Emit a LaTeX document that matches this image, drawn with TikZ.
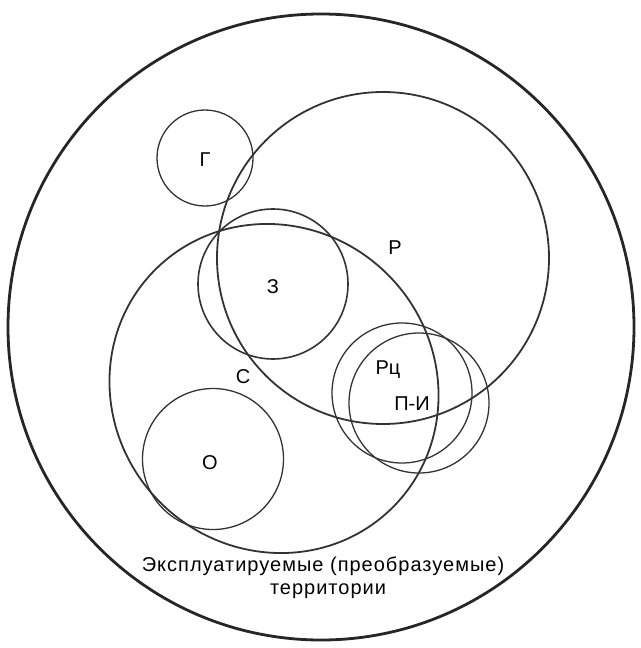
\documentclass[tikz,border=0pt]{standalone}
\usepackage{fontspec}
\setmainfont{Liberation Sans}
\begin{document}
\begin{tikzpicture}[x=1pt,y=-1pt,
  lab/.style={font=\fontsize{20}{22}\selectfont, inner sep=0pt, anchor=center},
  caption/.style={lab, font=\fontsize{20}{22}\selectfont\addfontfeature{LetterSpace=5}},
  outer/.style={line width=2.8pt, draw=black!85},
  big/.style={line width=1.8pt, draw=black!80},
  mid/.style={line width=1.6pt, draw=black!80},
  small/.style={line width=1.3pt, draw=black!80}]
\useasboundingbox[fill=white] (0,0) rectangle (640,648);
% shapes
\draw[outer] (321,327) circle[radius=313pt];
\draw[small] (205,158) circle[radius=48pt];
\draw[big] (383,258) circle[radius=166pt];
\draw[big] (274,388.5) circle[x radius=168pt, y radius=161pt, rotate=-45];
\draw[mid] (273,284) circle[radius=75pt];
\draw[small] (213,459) circle[radius=70.5pt];
\draw[small] (402,393) circle[radius=70pt];
\draw[small] (419,403) circle[radius=70pt];
% labels
\node[lab] (g) at (205,160) {Г};
\node[lab] (z) at (273,287) {З};
\node[lab] (r) at (395,248) {Р};
\node[lab] (s) at (243,377) {С};
\node[lab] (o) at (210,463) {О};
\node[lab] (rc) at (388,370) {Рц};
\node[lab] (pi) at (412,404) {П-И};
\node[caption] (t1) at (323,566) {Эксплуатируемые (преобразуемые)};
\node[caption] (t2) at (328,591) {территории};
\end{tikzpicture}
\end{document}
